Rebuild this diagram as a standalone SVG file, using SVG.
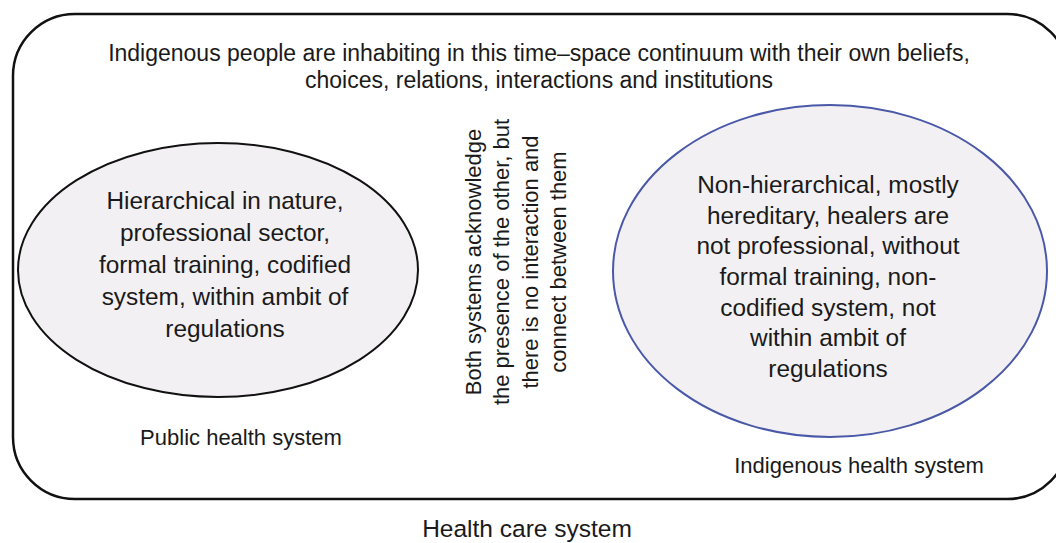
<svg xmlns="http://www.w3.org/2000/svg" width="1056" height="543" viewBox="0 0 1056 543">
<style>
text{font-family:"Liberation Sans",Arial,sans-serif;fill:#1a1a1a;text-anchor:middle}
.t{font-size:23px}
.v{font-size:22px}
.e{font-size:24.4px}
.l{font-size:22px}
.c{font-size:24.5px}
.ell{fill:#f3f0f3;stroke-width:2}
</style>
<rect width="1056" height="543" fill="#ffffff"/>
<g id="frame">
<rect x="13" y="14" width="1056" height="485" rx="62" ry="62" fill="none" stroke="#111" stroke-width="2.5"/>
<text class="t" x="539" y="61">Indigenous people are inhabiting in this time–space continuum with their own beliefs,</text>
<text class="t" x="539" y="88">choices, relations, interactions and institutions</text>
</g>
<g id="public">
<ellipse class="ell" cx="218" cy="270" rx="200" ry="127" stroke="#111"/>
<text class="e" x="225" y="209">Hierarchical in nature,</text>
<text class="e" x="225" y="241">professional sector,</text>
<text class="e" x="225" y="273">formal training, codified</text>
<text class="e" x="225" y="305">system, within ambit of</text>
<text class="e" x="225" y="337">regulations</text>
<text class="l" x="241" y="445">Public health system</text>
</g>
<g id="indigenous">
<ellipse class="ell" cx="830" cy="271" rx="217" ry="166" stroke="#4a58a8"/>
<text class="e" x="828" y="193">Non-hierarchical, mostly</text>
<text class="e" x="828" y="224">hereditary, healers are</text>
<text class="e" x="828" y="254">not professional, without</text>
<text class="e" x="828" y="285">formal training, non-</text>
<text class="e" x="828" y="316">codified system, not</text>
<text class="e" x="828" y="346">within ambit of</text>
<text class="e" x="828" y="377">regulations</text>
<text class="l" x="859" y="473">Indigenous health system</text>
</g>
<g id="middle" transform="rotate(-90)">
<text class="v" x="-262" y="481">Both systems acknowledge</text>
<text class="v" x="-262" y="509">the presence of the other, but</text>
<text class="v" x="-262" y="538">there is no interaction and</text>
<text class="v" x="-262" y="566">connect between them</text>
</g>
<g id="connectors"></g>
<g id="caption">
<text class="c" x="527" y="537">Health care system</text>
</g>
</svg>
